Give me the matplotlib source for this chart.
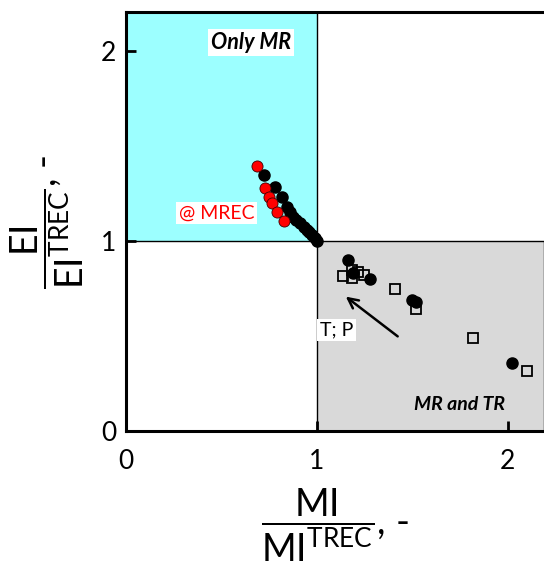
import matplotlib
matplotlib.use('Agg')
import matplotlib.pyplot as plt
from matplotlib.patches import Rectangle

plt.rcParams['font.family'] = ['Lato', 'DejaVu Sans']
plt.rcParams['mathtext.fontset'] = 'custom'
plt.rcParams['mathtext.rm'] = 'Lato'
plt.rcParams['mathtext.it'] = 'Lato:italic'
plt.rcParams['mathtext.bf'] = 'Lato:bold'

# trajectory towards MREC (black) and MREC points (red)
traj_x = [0.722, 0.780, 0.817, 0.843, 0.86, 0.874, 0.89, 0.911, 0.93, 0.948, 0.96, 0.974, 0.99, 1.0]
traj_y = [1.347, 1.284, 1.232, 1.179, 1.15, 1.126, 1.11, 1.095, 1.075, 1.058, 1.045, 1.032, 1.015, 1.0]
mrec_x = [0.686, 0.728, 0.749, 0.764, 0.791, 0.827]
mrec_y = [1.395, 1.279, 1.232, 1.200, 1.153, 1.105]

# MR and TR region: filled circles and open squares
circ_x = [1.162, 1.19, 1.28, 1.50, 1.52, 2.02]
circ_y = [0.90, 0.83, 0.80, 0.69, 0.68, 0.36]
sq_x = [1.136, 1.183, 1.183, 1.215, 1.246, 1.41, 1.52, 1.82, 2.10]
sq_y = [0.816, 0.847, 0.805, 0.837, 0.820, 0.747, 0.64, 0.49, 0.316]

xmax, ymax = 2.19, 2.205

fig = plt.figure(figsize=(5.44, 5.70), dpi=100)
ax = fig.add_axes([0.2316, 0.2439, 0.7684, 0.735])
ax.set_xlim(0, xmax)
ax.set_ylim(0, ymax)

ax.add_patch(Rectangle((0, 1), 1, ymax - 1, facecolor='#9cffff', edgecolor='black', lw=1, zorder=0))
ax.add_patch(Rectangle((1, 0), xmax - 1, 1, facecolor='#d9d9d9', edgecolor='black', lw=1, zorder=0))

ax.plot(traj_x, traj_y, 'o', color='black', ms=8, zorder=3)
ax.plot(mrec_x, mrec_y, 'o', color='red', mec='#400000', mew=0.6, ms=8, zorder=4)
ax.plot(sq_x, sq_y, 's', mfc='none', mec='black', mew=1.3, ms=7, zorder=3)
ax.plot(circ_x, circ_y, 'o', color='black', ms=8, zorder=3)

ax.annotate('', xy=(1.14, 0.716), xytext=(1.435, 0.489),
            arrowprops=dict(arrowstyle='->', color='black', lw=1.8, mutation_scale=18))

ax.text(0.654, 2.045, 'Only MR', fontsize=15.5, fontweight='bold', fontstyle='italic',
        ha='center', va='center', bbox=dict(facecolor='white', edgecolor='none', pad=2))
ax.text(0.476, 1.147, '@ MREC', fontsize=14, color='red', ha='center', va='center',
        bbox=dict(facecolor='white', edgecolor='none', pad=2))
ax.text(1.105, 0.53, 'T; P', fontsize=14, ha='center', va='center',
        bbox=dict(facecolor='white', edgecolor='none', pad=2))
ax.text(1.75, 0.137, 'MR and TR', fontsize=14, fontweight='bold', fontstyle='italic',
        ha='center', va='center')

for s in ['left', 'bottom', 'top']:
    ax.spines[s].set_linewidth(2.2)
ax.spines['right'].set_visible(False)

ax.set_xticks([0, 1, 2])
ax.set_yticks([0, 1, 2])
ax.tick_params(axis='both', direction='in', length=7, width=2, labelsize=19)
ax.tick_params(axis='x', pad=13)
ax.tick_params(axis='y', pad=7)

ax.set_xlabel(r'$\dfrac{\mathrm{MI}}{\mathrm{MI}^{\mathrm{TREC}}}$, -', fontsize=27, labelpad=9)
ax.set_ylabel(r'$\dfrac{\mathrm{EI}}{\mathrm{EI}^{\mathrm{TREC}}}$, -', fontsize=27, labelpad=11)

fig.savefig('out.png', dpi=100)
